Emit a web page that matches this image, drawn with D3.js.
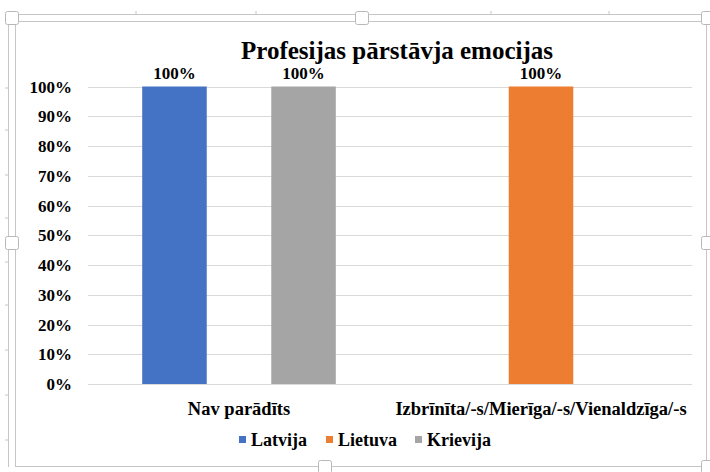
<!DOCTYPE html>
<html><head><meta charset="utf-8">
<script src="https://cdn.jsdelivr.net/npm/d3@7"></script>
<style>html,body{margin:0;padding:0;background:#fff;}svg{display:block;} svg text{font-family:"Liberation Serif","Times New Roman",serif !important;font-weight:bold;fill:#000;}</style>
</head><body>
<script>
const categories = ["Nav parādīts", "Izbrīnīta/-s/Mierīga/-s/Vienaldzīga/-s"];
const seriesNames = ["Latvija", "Lietuva", "Krievija"];
const latvija = [1, null];
const lietuva = [null, 1];
const krievija = [1, null];
const yTicks = [0, 0.1, 0.2, 0.3, 0.4, 0.5, 0.6, 0.7, 0.8, 0.9, 1];
const title = "Profesijas pārstāvja emocijas";
const colors = ["#4472c4", "#ed7d31", "#a5a5a5"];

const seriesValues = [latvija, lietuva, krievija];
const W = 710, H = 472;
const svg = d3.select("body").append("svg").attr("width", W).attr("height", H);

// selection frame (screenshot chrome)
const frame = svg.append("g").attr("stroke", "#c6c6c6").attr("fill", "none").attr("stroke-width", 1);
frame.append("line").attr("x1", 8).attr("x2", 707).attr("y1", 14.5).attr("y2", 14.5);
frame.append("line").attr("x1", 15).attr("x2", 707).attr("y1", 21.5).attr("y2", 21.5);
frame.append("line").attr("x1", 8.5).attr("x2", 8.5).attr("y1", 14).attr("y2", 467);
frame.append("line").attr("x1", 15.5).attr("x2", 15.5).attr("y1", 21).attr("y2", 467);
frame.append("line").attr("x1", 15).attr("x2", 707).attr("y1", 466.5).attr("y2", 466.5);
frame.append("line").attr("x1", 706.5).attr("x2", 706.5).attr("y1", 21).attr("y2", 467);
[136, 256, 491, 609].forEach(x => frame.append("line").attr("x1", x).attr("x2", x).attr("y1", 11).attr("y2", 15));
[88, 130, 175, 218, 262, 305, 350, 395, 440].forEach(y => frame.append("line").attr("x1", 5).attr("x2", 8).attr("y1", y).attr("y2", y));
const handles = [[12, 18], [362, 18], [708, 18], [12, 243], [708, 243], [325, 467], [708, 467]];
svg.append("g").selectAll("rect").data(handles).join("rect")
  .attr("x", d => d[0] - 6.5).attr("y", d => d[1] - 6.5).attr("width", 13).attr("height", 13)
  .attr("rx", 2).attr("fill", "#fff").attr("stroke", "#b8b8b8");

const x0 = d3.scaleBand().domain(categories).range([88, 692]).paddingInner(0).paddingOuter(0);
const x1 = d3.scaleBand().domain(seriesNames).range([0, x0.bandwidth()]).paddingInner(0).paddingOuter(0.84);
const y = d3.scaleLinear().domain([0, 1]).range([384, 86.5]);

// gridlines
svg.append("g").selectAll("line").data(yTicks).join("line")
  .attr("x1", 88).attr("x2", 692)
  .attr("y1", d => Math.round(y(d)) + 0.5).attr("y2", d => Math.round(y(d)) + 0.5)
  .attr("stroke", "#d9d9d9").attr("stroke-width", 1);

// y axis labels
const yAxis = d3.axisLeft(y).tickValues(yTicks).tickFormat(d3.format(".0%")).tickSize(0).tickPadding(0);
const ya = svg.append("g").attr("transform", "translate(72,0)").call(yAxis);
ya.select(".domain").remove();
ya.selectAll("text").style("font-size", "17px").attr("dy", "0.33em");

// bars
const bars = [];
categories.forEach((c, i) => seriesNames.forEach((s, j) => {
  const v = seriesValues[j][i];
  if (v != null) bars.push({ c, s, v, j });
}));
svg.append("g").selectAll("rect").data(bars).join("rect")
  .attr("x", d => x0(d.c) + x1(d.s)).attr("width", x1.bandwidth())
  .attr("y", d => y(d.v)).attr("height", d => y(0) - y(d.v))
  .attr("fill", d => colors[d.j]);

// data labels
svg.append("g").selectAll("text").data(bars).join("text")
  .attr("x", d => x0(d.c) + x1(d.s) + x1.bandwidth() / 2).attr("y", d => y(d.v) - 8)
  .attr("text-anchor", "middle").style("font-size", "17px")
  .text(d => d3.format(".0%")(d.v));

// category axis labels
const xAxis = d3.axisBottom(x0).tickSize(0).tickPadding(0);
const xa = svg.append("g").attr("transform", "translate(0,384)").call(xAxis);
xa.select(".domain").remove();
xa.selectAll("text").style("font-size", "18.5px").attr("dy", 0).attr("y", 31);

// title
svg.append("text").attr("x", 397).attr("y", 59).attr("text-anchor", "middle")
  .style("font-size", "25px").text(title);

// legend
const legendX = [239, 326, 415];
const lg = svg.append("g").selectAll("g").data(seriesNames).join("g")
  .attr("transform", (d, i) => `translate(${legendX[i]},440)`);
lg.append("rect").attr("x", 0).attr("y", -4).attr("width", 7).attr("height", 7).attr("fill", (d, i) => colors[i]);
lg.append("text").attr("x", 12).attr("y", 6).style("font-size", "18px").text(d => d);
</script>
</body></html>
